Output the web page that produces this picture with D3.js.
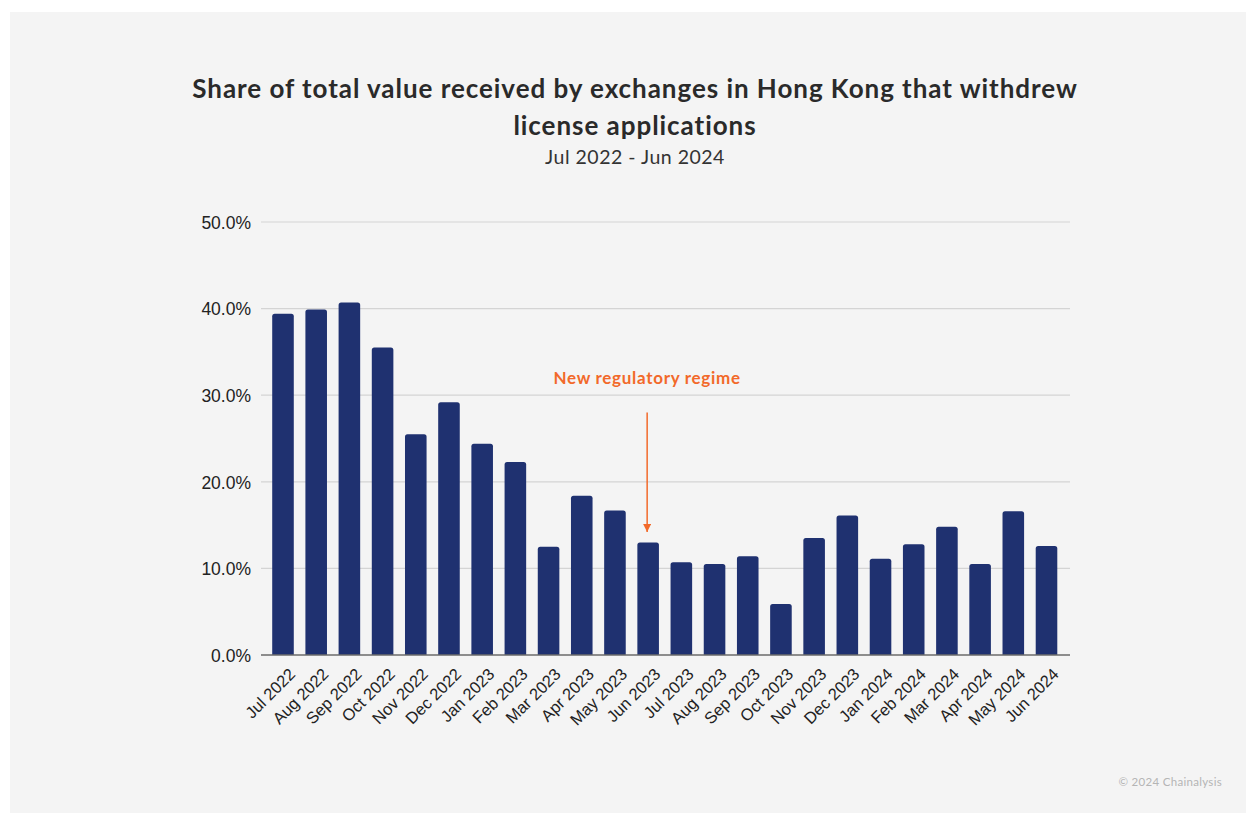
<!DOCTYPE html>
<html>
<head>
<meta charset="utf-8">
<script src="https://cdn.jsdelivr.net/npm/d3@7/dist/d3.min.js"></script>
<style>
  html, body { margin: 0; padding: 0; background: #ffffff; }
  svg { display: block; }
</style>
</head>
<body>
<svg id="chart" width="1246" height="813"></svg>
<script>
// Monthly share of value received by exchanges that withdrew license applications (%)
const months = [
  "Jul 2022", "Aug 2022", "Sep 2022", "Oct 2022", "Nov 2022", "Dec 2022",
  "Jan 2023", "Feb 2023", "Mar 2023", "Apr 2023", "May 2023", "Jun 2023",
  "Jul 2023", "Aug 2023", "Sep 2023", "Oct 2023", "Nov 2023", "Dec 2023",
  "Jan 2024", "Feb 2024", "Mar 2024", "Apr 2024", "May 2024", "Jun 2024"
];
const shares = [
  39.4, 39.9, 40.7, 35.5, 25.5, 29.2,
  24.4, 22.3, 12.5, 18.4, 16.7, 13.0,
  10.7, 10.5, 11.4, 5.9, 13.5, 16.1,
  11.1, 12.8, 14.8, 10.5, 16.6, 12.6
];
const yTicks = [0, 10, 20, 30, 40, 50];
const annotation = { month: "Jun 2023", label: "New regulatory regime", from: 28.0, to: 14.2 };

const svg = d3.select("#chart");

// Panel background
svg.append("rect")
  .attr("x", 10).attr("y", 12)
  .attr("width", 1236).attr("height", 801)
  .attr("fill", "#f4f4f4");

// Titles
const titleFont = "Lato, 'Noto Sans', sans-serif";
const axisFont = "'Liberation Sans', Arial, sans-serif";
[["Share of total value received by exchanges in Hong Kong that withdrew", 98],
 ["license applications", 135]].forEach(([line, yy]) => {
  svg.append("text")
    .attr("x", 635).attr("y", yy)
    .attr("text-anchor", "middle")
    .attr("font-family", titleFont).attr("font-weight", 700)
    .attr("font-size", 26).attr("letter-spacing", 0.95)
    .attr("fill", "#2a2a2a")
    .text(line);
});
svg.append("text")
  .attr("x", 635).attr("y", 164)
  .attr("text-anchor", "middle")
  .attr("font-family", titleFont).attr("font-weight", 400)
  .attr("font-size", 19.5).attr("letter-spacing", 0.5)
  .attr("fill", "#333333")
  .text("Jul 2022 - Jun 2024");

// Scales
const x = d3.scaleBand()
  .domain(months)
  .range([266.4, 1063.1])
  .paddingInner(0.35)
  .paddingOuter(0.175);
const y = d3.scaleLinear().domain([0, 50]).range([655, 222]);

// Gridlines
svg.append("g")
  .selectAll("line")
  .data(yTicks.filter(t => t > 0))
  .join("line")
  .attr("x1", 261).attr("x2", 1070)
  .attr("y1", d => y(d)).attr("y2", d => y(d))
  .attr("stroke", "#d4d4d4").attr("stroke-width", 1.2);

// Y axis labels
const yAxis = d3.axisLeft(y)
  .tickValues(yTicks)
  .tickSize(0)
  .tickPadding(0)
  .tickFormat(d => d3.format(".1f")(d) + "%");
svg.append("g")
  .attr("transform", "translate(251,0)")
  .call(yAxis)
  .call(g => g.select(".domain").remove())
  .call(g => g.selectAll("text")
    .attr("font-family", axisFont)
    .attr("font-size", 17.5)
    .attr("fill", "#222222")
    .attr("dy", "0.36em"));

// Bars with rounded tops
const barColor = "#1f3170";
const r = 2.5;
svg.append("g")
  .selectAll("path")
  .data(months.map((m, i) => ({ m, v: shares[i] })))
  .join("path")
  .attr("fill", barColor)
  .attr("d", d => {
    const x0 = x(d.m), w = x.bandwidth(), top = y(d.v), base = y(0);
    return `M${x0},${base}V${top + r}Q${x0},${top} ${x0 + r},${top}` +
           `H${x0 + w - r}Q${x0 + w},${top} ${x0 + w},${top + r}V${base}Z`;
  });

// X axis
const xAxis = d3.axisBottom(x).tickSize(0).tickPadding(0);
svg.append("g")
  .attr("transform", `translate(0,${y(0)})`)
  .call(xAxis)
  .call(g => g.select(".domain").remove())
  .call(g => g.selectAll("text")
    .attr("font-family", axisFont)
    .attr("font-size", 16.5)
    .attr("fill", "#222222")
    .attr("text-anchor", "end")
    .attr("transform", "translate(5,12) rotate(-45)")
    .attr("dy", "0.71em"));

svg.append("line")
  .attr("x1", 261).attr("x2", 1070)
  .attr("y1", y(0)).attr("y2", y(0))
  .attr("stroke", "#6b6b6b").attr("stroke-width", 1.5);

// Annotation
const ax = x(annotation.month) + x.bandwidth() / 2 - 1;
const orange = "#f2692a";
svg.append("defs").append("marker")
  .attr("id", "arrowhead")
  .attr("viewBox", "0 0 10 10")
  .attr("refX", 10).attr("refY", 5)
  .attr("markerWidth", 9).attr("markerHeight", 8)
  .attr("markerUnits", "userSpaceOnUse")
  .attr("orient", "auto")
  .append("path")
  .attr("d", "M0,0L10,5L0,10Z")
  .attr("fill", orange);
svg.append("line")
  .attr("x1", ax).attr("x2", ax)
  .attr("y1", y(annotation.from)).attr("y2", y(annotation.to))
  .attr("stroke", orange).attr("stroke-width", 1.5)
  .attr("marker-end", "url(#arrowhead)");
svg.append("text")
  .attr("x", ax).attr("y", y(annotation.from) - 29)
  .attr("text-anchor", "middle")
  .attr("font-family", titleFont).attr("font-weight", 700)
  .attr("font-size", 17).attr("letter-spacing", 0.7)
  .attr("fill", orange)
  .text(annotation.label);

// Source note
svg.append("text")
  .attr("x", 1222).attr("y", 786)
  .attr("text-anchor", "end")
  .attr("font-family", titleFont)
  .attr("font-size", 11.5).attr("letter-spacing", 0.3)
  .attr("fill", "#b5b5b5")
  .text("© 2024 Chainalysis");
</script>
</body>
</html>
